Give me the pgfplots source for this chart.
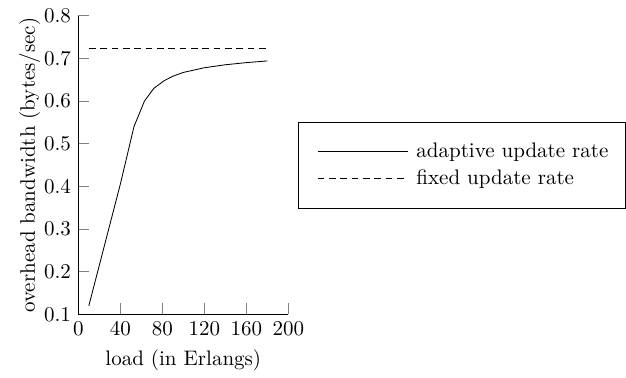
\documentclass[border=0pt]{standalone}
\usepackage{pgfplots}
\pgfplotsset{compat=1.18}
\begin{document}
\begin{tikzpicture}
\begin{axis}[
  scale only axis,
  width=100pt, height=142.2pt,
  xmin=0, xmax=200, ymin=0.1, ymax=0.8,
  axis lines=left,
  axis line style={-},
  tick align=inside,
  major tick length=5.2pt,
  xtick={0,40,80,120,160,200},
  ytick={0.1,0.2,0.3,0.4,0.5,0.6,0.7,0.8},
  yticklabel style={/pgf/number format/.cd, fixed, fixed zerofill, precision=1},
  xlabel={load (in Erlangs)},
  ylabel={overhead bandwidth (bytes/sec)},
  ylabel shift=-5pt,
  clip=false,
  legend cell align=left,
  legend image code/.code={\draw[#1] (0pt,0pt) -- (42.9pt,0pt);},
  legend style={at={(1.1352,0.4205)}, anchor=south west, draw=none, fill=none, font=\normalsize,
    nodes={inner sep=0pt, text height=7pt, text depth=2pt},
    inner xsep=0pt, inner ysep=0pt, row sep=3.9pt, column sep=4pt},
]
\addplot[black, thin] coordinates {
  (10,0.12) (20,0.215) (30,0.31) (40,0.405) (53,0.54) (63,0.6) (72,0.63)
  (82,0.648) (90,0.658) (100,0.667) (120,0.678) (140,0.685) (160,0.69) (180,0.694)
};
\addlegendentry{adaptive update rate}
\addplot[black, thin, dash pattern=on 3.2pt off 2.2pt] coordinates {(10,0.724) (180,0.724)};
\addlegendentry{fixed update rate}
\draw[black] (rel axis cs:1.0476,0.3537) rectangle (rel axis cs:2.605,0.6417);
\path[draw=none] (rel axis cs:-0.373,-0.197) rectangle (rel axis cs:2.608,1.0526);
\end{axis}
\end{tikzpicture}
\end{document}
